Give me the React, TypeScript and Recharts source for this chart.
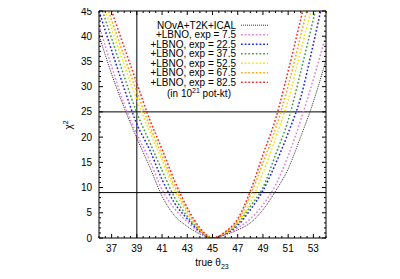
import { LineChart, Line, XAxis, YAxis, ReferenceLine } from 'recharts';

// true theta23 grid (degrees)
const theta = [36, 37, 38, 39, 40, 41, 42, 43, 44, 45, 46, 47, 48, 49, 50, 51, 52, 53, 54];

// chi^2 curves
const novaT2kIcal = [40.2, 32.5, 25.8, 19.8, 14.2, 8.3, 4.4, 2.3, 0.8, 0, 0.6, 1.6, 3.0, 5.6, 9.3, 13.7, 20.1, 27.0, 35.3];
const exp7p5 = [42.2, 34.0, 26.5, 20.6, 15.5, 9.6, 5.8, 3.2, 1.1, 0, 0.7, 2.0, 3.8, 6.6, 10.5, 16.3, 23.4, 31.5, 40.2];
const exp22p5 = [45.0, 37.2, 29.6, 22.6, 17.6, 11.6, 6.9, 3.8, 1.3, 0, 0.8, 2.5, 5.6, 9.4, 14.7, 20.8, 27.9, 38.5, 50.0];
const exp37p5 = [47.1, 39.6, 32.0, 24.8, 19.1, 13.4, 8.0, 4.3, 1.5, 0, 0.9, 2.8, 6.3, 10.0, 16.5, 23.3, 33.0, 43.4, 54.0];
const exp52p5 = [48.6, 41.5, 34.3, 27.4, 21.2, 15.5, 9.5, 4.9, 1.6, 0, 1.0, 3.1, 7.0, 12.9, 19.8, 27.4, 37.2, 47.0, 58.0];
const exp67p5 = [50.5, 43.2, 36.0, 29.0, 22.3, 16.4, 10.3, 5.4, 1.7, 0, 1.1, 3.4, 8.4, 14.9, 21.7, 30.2, 40.2, 50.5, 61.0];
const exp82p5 = [52.0, 45.0, 37.8, 30.7, 23.6, 17.6, 11.3, 6.0, 2.0, 0, 1.2, 3.8, 9.3, 16.5, 23.6, 33.1, 43.4, 54.0, 65.0];

const xTicks = [37, 39, 41, 43, 45, 47, 49, 51, 53];
const yTicks = [0, 5, 10, 15, 20, 25, 30, 35, 40, 45];
const xMinorTicks = [36, 36.5, 37, 37.5, 38, 38.5, 39, 39.5, 40, 40.5, 41, 41.5, 42, 42.5, 43, 43.5, 44, 44.5, 45, 45.5, 46, 46.5, 47, 47.5, 48, 48.5, 49, 49.5, 50, 50.5, 51, 51.5, 52, 52.5, 53, 53.5, 54];
const yMinorTicks = [0, 1, 2, 3, 4, 5, 6, 7, 8, 9, 10, 11, 12, 13, 14, 15, 16, 17, 18, 19, 20, 21, 22, 23, 24, 25, 26, 27, 28, 29, 30, 31, 32, 33, 34, 35, 36, 37, 38, 39, 40, 41, 42, 43, 44, 45];

const cutLines = [9, 25];
const thetaMark = 39;

const series = [
  { key: 'nova', label: 'NOvA+T2K+ICAL', color: '#333333', values: novaT2kIcal, dash: '1 1', width: 1 },
  { key: 'e7', label: '+LBNO, exp = 7.5', color: '#e47ee4', values: exp7p5, dash: '1.7 2', width: 1.5 },
  { key: 'e22', label: '+LBNO, exp = 22.5', color: '#1a1aff', values: exp22p5, dash: '1.7 2', width: 1.5 },
  { key: 'e37', label: '+LBNO, exp = 37.5', color: '#3c9f3c', values: exp37p5, dash: '1.7 2', width: 1.5 },
  { key: 'e52', label: '+LBNO, exp = 52.5', color: '#ffe000', values: exp52p5, dash: '1.7 2', width: 1.5 },
  { key: 'e67', label: '+LBNO, exp = 67.5', color: '#ffa500', values: exp67p5, dash: '1.7 2', width: 1.5 },
  { key: 'e82', label: '+LBNO, exp = 82.5', color: '#ff2020', values: exp82p5, dash: '1.7 2', width: 1.5 },
];

const rows = theta.map((t, i) => {
  const row: Record<string, number> = { theta: t };
  series.forEach((s) => (row[s.key] = s.values[i]));
  return row;
});

const W = 384;
const H = 263;
const FONT = '"Liberation Sans", Arial, Helvetica, sans-serif';
const MAJOR = 4;
const MINOR = 2;

// gnuplot-style inward ticks: tickSize/tickMargin are 0 so x/y is the frame position
const makeTick = (side: 'bottom' | 'top' | 'left' | 'right', majors: number[]) => (props: any) => {
  const { x, y, payload } = props;
  const v = payload.value;
  const len = majors.includes(v) ? MAJOR : MINOR;
  if (side === 'bottom') {
    return (
      <g>
        <line x1={x} x2={x} y1={y} y2={y - len} stroke="#000" />
        {majors.includes(v) && (
          <text x={x} y={y + 14} textAnchor="middle" fontSize={10} fontFamily={FONT} fill="#000">
            {v}
          </text>
        )}
      </g>
    );
  }
  if (side === 'top') return <line x1={x} x2={x} y1={y} y2={y + len} stroke="#000" />;
  if (side === 'right') return <line x1={x} x2={x - len} y1={y} y2={y} stroke="#000" />;
  return (
    <g>
      <line x1={x} x2={x + len} y1={y} y2={y} stroke="#000" />
      {majors.includes(v) && (
        <text x={x - 7} y={y + 3.6} textAnchor="end" fontSize={10} fontFamily={FONT} fill="#000">
          {v}
        </text>
      )}
    </g>
  );
};

const black = { stroke: '#000' };

export default function App() {
  return (
    <div style={{ position: 'relative', width: W, height: H }}>
      <LineChart width={W} height={H} data={rows} margin={{ top: 2, right: 65, bottom: 0, left: 0 }}>
        <XAxis dataKey="theta" type="number" domain={[36, 54]} allowDataOverflow ticks={xMinorTicks} interval={0} tick={makeTick('bottom', xTicks)} tickSize={0} tickMargin={0} tickLine={false} axisLine={black} height={33} />
        <XAxis xAxisId="top" orientation="top" dataKey="theta" type="number" domain={[36, 54]} allowDataOverflow ticks={xMinorTicks} interval={0} tick={makeTick('top', xTicks)} tickSize={0} tickMargin={0} tickLine={false} axisLine={black} height={1} />
        <YAxis type="number" domain={[0, 45]} allowDataOverflow ticks={yMinorTicks} interval={0} tick={makeTick('left', yTicks)} tickSize={0} tickMargin={0} tickLine={false} axisLine={black} width={91} />
        <YAxis yAxisId="right" orientation="right" type="number" domain={[0, 45]} allowDataOverflow ticks={yMinorTicks} interval={0} tick={makeTick('right', yTicks)} tickSize={0} tickMargin={0} tickLine={false} axisLine={black} width={1} />

        {cutLines.map((v) => (
          <ReferenceLine key={v} y={v} stroke="#000" strokeWidth={1} />
        ))}
        <ReferenceLine x={thetaMark} stroke="#000" strokeWidth={1} />

        {series.map((s) => (
          <Line
            key={s.key}
            type="monotone"
            dataKey={s.key}
            stroke={s.color}
            strokeWidth={s.width}
            strokeDasharray={s.dash}
            dot={false}
            activeDot={false}
            isAnimationActive={false}
          />
        ))}
      </LineChart>

      {/* legend and axis titles */}
      <svg width={W} height={H} style={{ position: 'absolute', left: 0, top: 0, pointerEvents: 'none' }} fontFamily={FONT}>
        {series.map((s, i) => {
          const cy = 17.2 + i * 9.5;
          return (
            <g key={s.key}>
              <text x={228} y={cy + 3.6} fontSize={10} textAnchor="end" fill="#000">
                {s.label}
              </text>
              <line x1={233} x2={260} y1={cy} y2={cy} stroke={s.color} strokeWidth={s.width} strokeDasharray={s.dash} />
            </g>
          );
        })}
        <text x={191} y={89} fontSize={10} textAnchor="middle" fill="#000">
          (in 10<tspan dy={-4} fontSize={7}>21</tspan><tspan dy={4}> pot-kt)</tspan>
        </text>
        <text x={204} y={258} fontSize={10} textAnchor="middle" fill="#000">
          true θ<tspan dy={3} fontSize={7}>23</tspan>
        </text>
        <text x={0} y={0} fontSize={10} textAnchor="middle" fill="#000" transform="translate(64,117) rotate(-90)">
          χ<tspan dy={-4} fontSize={7}>2</tspan>
        </text>
      </svg>
    </div>
  );
}
